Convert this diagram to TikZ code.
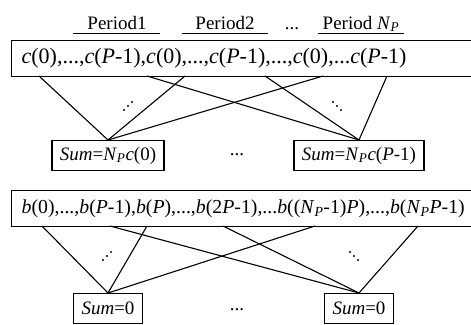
\documentclass[tikz,border=0pt]{standalone}
\usepackage{fontspec}
\setmainfont{Liberation Serif}
\usetikzlibrary{calc}

\newcommand{\iv}[1]{\textit{#1}}
\newcommand{\Np}{\textit{N}\textsubscript{\textit{P}}}

\tikzset{
  fila/.style={draw, line width=1.3pt, anchor=north west, text width=450pt, align=left,
    inner xsep=10pt, minimum height=36pt},
  suma/.style={draw, line width=1.3pt, anchor=north, minimum height=30pt, inner xsep=8pt},
  enllac/.style={line width=1.1pt},
  periode/.style={anchor=base},
}

\begin{document}
\begin{tikzpicture}[x=1pt, y=-1pt, font=\fontsize{19}{22}\selectfont]
    \useasboundingbox (0,0) rectangle (471,324);
    \clip (0,0) rectangle (471,324);
    % Periodes de la sequencia
    \node[periode] (p1) at (117,29) {Period1};
    \node[periode] (p2) at (225,29) {Period2};
    \node[periode] (pn) at (361,29) {Period \Np};
    \node[periode] (pd) at (292,29) {...};
    \draw[line width=1pt] (73,33) -- (160,33) (182,33) -- (268,33) (318,33) -- (404,33);
    % Sequencia c i les seves sumes
    \node[fila, font=\fontsize{22}{24}\selectfont] (cfila) at (11,40) {\iv{c}(0),...,\iv{c}(\iv{P}-1),\iv{c}(0),...,\iv{c}(\iv{P}-1),...,\iv{c}(0),...\iv{c}(\iv{P}-1)};
    \node[suma] (cs1) at (108,140) {\iv{Sum}=\Np\iv{c}(0)};
    \node[suma] (cs2) at (359,140) {\iv{Sum}=\Np\iv{c}(\iv{P}-1)};
    \node (cdots) at (237,155) {...};
    \foreach \x/\s in {39/cs1, 147/cs2, 185/cs1, 265/cs2, 323/cs1, 387/cs2} {
        \coordinate (c\x) at (\x,76);
        \draw[enllac] (c\x) -- (\s.north);
    }
    % Punts en diagonal
    \coordinate (cd1) at (128,106);
    \coordinate (cd2) at (337,106);
    \coordinate (bd1) at (107,256);
    \coordinate (bd2) at (354,256);
    \foreach \k in {-1,0,1} {
        \fill (cd1) ++(4*\k,-4*\k) circle (1.2pt);
        \fill (cd2) ++(4*\k,4*\k) circle (1.2pt);
        \fill (bd1) ++(4*\k,-4*\k) circle (1.2pt);
        \fill (bd2) ++(4*\k,4*\k) circle (1.2pt);
    }
    % Sequencia b i les seves sumes
    \node[fila, font=\fontsize{19.8}{22}\selectfont] (bfila) at (11,190) {\iv{b}(0),...,\iv{b}(\iv{P}-1),\iv{b}(\iv{P}),...,\iv{b}(2\iv{P}-1),...\iv{b}((\Np-1)\iv{P}),...,\iv{b}(\Np\iv{P}-1)};
    \node[suma] (bs1) at (108,293) {\iv{Sum}=0};
    \node[suma] (bs2) at (359,293) {\iv{Sum}=0};
    \node (bdots) at (237,310) {...};
    \foreach \x/\s in {42/bs1, 110/bs2, 147/bs1, 223/bs2, 315/bs1, 418/bs2} {
        \coordinate (b\x) at (\x,226);
        \draw[enllac] (b\x) -- (\s.north);
    }
\end{tikzpicture}
\end{document}
